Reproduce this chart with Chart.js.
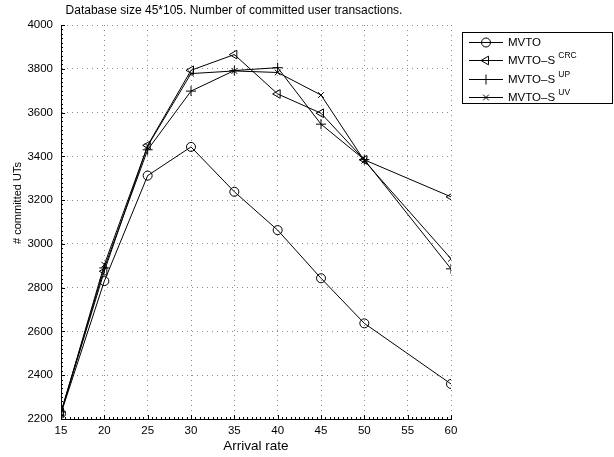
<!DOCTYPE html>
<html>
<head>
<meta charset="utf-8">
<script src="https://cdn.jsdelivr.net/npm/chart.js@4/dist/chart.umd.min.js"></script>
<style>
  html, body { margin: 0; padding: 0; background: #fff; }
  #wrap { width: 614px; height: 457px; }
</style>
</head>
<body>
<div id="wrap"><canvas id="plot" width="614" height="457"></canvas></div>
<script>
// arrival rates (no run at 55)
const rates = [15, 20, 25, 30, 35, 40, 45, 50, 60];

// committed user transactions per protocol
const mvto  = [2225, 2830, 3312, 3443, 3238, 3063, 2843, 2637, 2360];
const mvtoS_crc = [2230, 2875, 3450, 3793, 3865, 3685, 3597, 3384, 3215];
const mvtoS_up  = [2232, 2890, 3430, 3698, 3792, 3805, 3547, 3385, 2886];
const mvtoS_uv  = [2228, 2905, 3447, 3778, 3790, 3783, 3680, 3380, 2932];

const xTicks = [15, 20, 25, 30, 35, 40, 45, 50, 55, 60];
const yTicks = [2200, 2400, 2600, 2800, 3000, 3200, 3400, 3600, 3800, 4000];

const FONT = "'Liberation Sans', Arial, Helvetica, sans-serif";

const series = [
  { name: 'MVTO',   sup: '',    data: mvto,      marker: 'circle' },
  { name: 'MVTO–S', sup: 'CRC', data: mvtoS_crc, marker: 'tri' },
  { name: 'MVTO–S', sup: 'UP',  data: mvtoS_up,  marker: 'plus' },
  { name: 'MVTO–S', sup: 'UV',  data: mvtoS_uv,  marker: 'x' }
];

const styleFor = {
  circle: { pointStyle: 'circle',   radius: 4.5, rotation: 0 },
  tri:    { pointStyle: 'triangle', radius: 5,   rotation: -90 },
  plus:   { pointStyle: 'cross',    radius: 5,   rotation: 0 },
  x:      { pointStyle: 'crossRot', radius: 4,   rotation: 0 }
};

function drawMarker(ctx, kind, x, y) {
  const r = styleFor[kind].radius;
  ctx.beginPath();
  if (kind === 'circle') {
    ctx.arc(x, y, r, 0, Math.PI * 2);
  } else if (kind === 'tri') {
    ctx.moveTo(x - r, y);
    ctx.lineTo(x + r / 2, y - r * 0.866);
    ctx.lineTo(x + r / 2, y + r * 0.866);
    ctx.closePath();
  } else if (kind === 'plus') {
    ctx.moveTo(x - r, y); ctx.lineTo(x + r, y);
    ctx.moveTo(x, y - r); ctx.lineTo(x, y + r);
  } else {
    const d = r * 0.7071;
    ctx.moveTo(x - d, y - d); ctx.lineTo(x + d, y + d);
    ctx.moveTo(x - d, y + d); ctx.lineTo(x + d, y - d);
  }
  ctx.stroke();
}

// inward ticks, titles and the boxed legend
const decorations = {
  id: 'decorations',
  afterDraw(chart) {
    const { ctx, chartArea: area, scales: { x, y } } = chart;
    ctx.save();
    ctx.strokeStyle = '#000';
    ctx.lineWidth = 1;

    ctx.beginPath();
    for (let v = 15; v <= 60.001; v += 0.5) {
      const px = Math.round(x.getPixelForValue(v)) + 0.5;
      const len = Math.abs(v % 5) < 0.01 ? 4 : 2;
      ctx.moveTo(px, area.bottom);
      ctx.lineTo(px, area.bottom - len);
    }
    for (let v = 2200; v <= 4000; v += 20) {
      const py = Math.round(y.getPixelForValue(v)) + 0.5;
      const len = v % 200 === 0 ? 4 : 2;
      ctx.moveTo(area.left, py);
      ctx.lineTo(area.left + len, py);
    }
    ctx.stroke();

    ctx.fillStyle = '#000';
    ctx.textAlign = 'center';
    ctx.textBaseline = 'middle';
    ctx.font = '12px ' + FONT;
    ctx.fillText('Database size 45*105. Number of committed user transactions.', 234, 11);

    ctx.font = '13.5px ' + FONT;
    ctx.fillText('Arrival rate', (area.left + area.right) / 2, 446);

    ctx.save();
    ctx.translate(18, 203);
    ctx.rotate(-Math.PI / 2);
    ctx.font = '11px ' + FONT;
    ctx.fillText('# committed UTs', 0, 0);
    ctx.restore();

    // legend
    ctx.strokeRect(462.5, 32.5, 150, 71);
    const rows = [42, 60, 79, 97];
    series.forEach((s, i) => {
      const ry = rows[i] + 0.5;
      ctx.beginPath();
      ctx.moveTo(469, ry);
      ctx.lineTo(503, ry);
      ctx.stroke();
      drawMarker(ctx, s.marker, 486, ry);
      ctx.textAlign = 'left';
      ctx.textBaseline = 'middle';
      ctx.font = '11.5px ' + FONT;
      ctx.fillText(s.name, 508, rows[i] + 1);
      if (s.sup) {
        const w = ctx.measureText(s.name + ' ').width;
        ctx.font = '8.5px ' + FONT;
        ctx.fillText(s.sup, 508 + w, rows[i] - 4);
      }
    });
    ctx.restore();
  }
};

const datasets = series.map(s => {
  const st = styleFor[s.marker];
  return {
    label: s.sup ? s.name + ' ' + s.sup : s.name,
    data: rates.map((r, i) => ({ x: r, y: s.data[i] })),
    borderColor: '#000',
    borderWidth: 1,
    backgroundColor: 'rgba(0,0,0,0)',
    pointStyle: st.pointStyle,
    pointRadius: st.radius,
    pointRotation: st.rotation,
    pointBorderColor: '#000',
    pointBackgroundColor: 'rgba(0,0,0,0)',
    pointBorderWidth: 1,
    tension: 0,
    fill: false
  };
});

const gridLook = { color: '#8c8c8c', lineWidth: 1, drawTicks: false };
const borderLook = { color: '#000', width: 1, dash: [1, 4] };

new Chart(document.getElementById('plot').getContext('2d'), {
  type: 'line',
  data: { datasets },
  options: {
    responsive: false,
    animation: false,
    layout: { padding: { top: 25, right: 163, left: 0, bottom: 0 } },
    plugins: {
      legend: { display: false },
      title: { display: false },
      tooltip: { enabled: false }
    },
    scales: {
      x: {
        type: 'linear',
        min: 15,
        max: 60,
        afterBuildTicks(scale) { scale.ticks = xTicks.map(v => ({ value: v })); },
        afterFit(scale) { scale.height = 38; },
        grid: gridLook,
        border: borderLook,
        ticks: {
          color: '#000', font: { family: FONT, size: 11.5 }, padding: 5,
          maxRotation: 0, autoSkip: false, callback: v => String(v)
        }
      },
      y: {
        min: 2200,
        max: 4000,
        afterBuildTicks(scale) { scale.ticks = yTicks.map(v => ({ value: v })); },
        afterFit(scale) { scale.width = 61; },
        grid: gridLook,
        border: borderLook,
        ticks: { color: '#000', font: { family: FONT, size: 11.5 }, padding: 8, callback: v => String(v) }
      }
    }
  },
  plugins: [decorations]
});
</script>
</body>
</html>
